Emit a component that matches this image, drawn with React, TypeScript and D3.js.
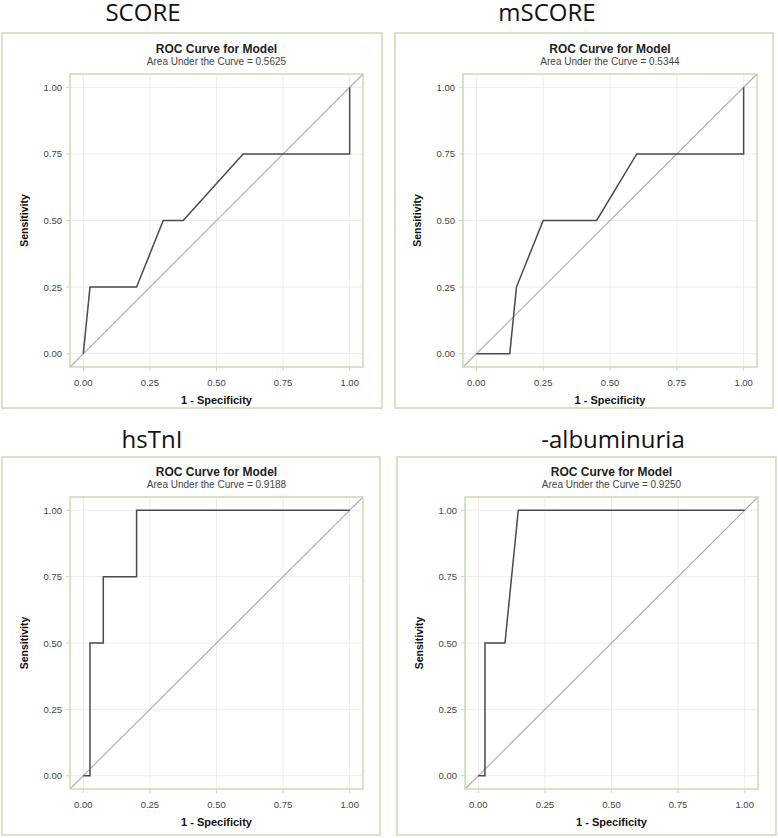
import React from "react";
import * as d3 from "d3";

const panelLabels = ["SCORE", "mSCORE", "hsTnI", "-albuminuria"];
const aucLabels = ["0.5625", "0.5344", "0.9188", "0.9250"];
const tickValues = [0, 0.25, 0.5, 0.75, 1];

const scoreFpr = [0, 0.025, 0.2, 0.3, 0.375, 0.6, 1.0, 1.0];
const scoreTpr = [0, 0.25, 0.25, 0.5, 0.5, 0.75, 0.75, 1.0];
const mscoreFpr = [0, 0.125, 0.15, 0.25, 0.45, 0.6, 1.0, 1.0];
const mscoreTpr = [0, 0, 0.25, 0.5, 0.5, 0.75, 0.75, 1.0];
const hstniFpr = [0, 0.025, 0.025, 0.075, 0.075, 0.2, 0.2, 1.0];
const hstniTpr = [0, 0, 0.5, 0.5, 0.75, 0.75, 1.0, 1.0];
const albFpr = [0, 0.025, 0.025, 0.1, 0.15, 1.0];
const albTpr = [0, 0, 0.5, 0.5, 1.0, 1.0];

const seriesFpr = [scoreFpr, mscoreFpr, hstniFpr, albFpr];
const seriesTpr = [scoreTpr, mscoreTpr, hstniTpr, albTpr];

type Layout = {
  frame: [number, number, number, number];
  plot: [number, number, number, number];
  labelX: number;
  labelY: number;
};

const layouts: Layout[] = [
  { frame: [2, 33, 382, 408], plot: [70, 74, 363, 367], labelX: 143, labelY: 21 },
  { frame: [395, 33, 773, 408], plot: [463, 74, 757, 367], labelX: 547, labelY: 21 },
  { frame: [2, 457, 380, 835], plot: [70, 497, 363, 789], labelX: 152, labelY: 448 },
  { frame: [397, 457, 776, 835], plot: [465, 497, 758, 789], labelX: 613, labelY: 448 },
];

const green = "#c9dcb3";
const fontChart = "'Liberation Sans', Arial, sans-serif";

function Panel({ idx }: { idx: number }) {
  const L = layouts[idx];
  const [fx0, fy0, fx1, fy1] = L.frame;
  const [px0, py0, px1, py1] = L.plot;
  const x = d3.scaleLinear().domain([-0.05, 1.05]).range([px0, px1]);
  const y = d3.scaleLinear().domain([-0.05, 1.05]).range([py1, py0]);
  const pts: [number, number][] = seriesFpr[idx].map((v, i) => [v, seriesTpr[idx][i]]);
  const line = d3
    .line<[number, number]>()
    .x((d) => x(d[0]))
    .y((d) => y(d[1]));
  const cx = (px0 + px1) / 2;
  const cy = (py0 + py1) / 2;
  return (
    <g>
      <rect x={fx0} y={fy0} width={fx1 - fx0} height={fy1 - fy0} fill="white" stroke={green} strokeWidth={1.5} />
      <text x={L.labelX} y={L.labelY} textAnchor="middle" fontFamily="'Open Sans', 'Noto Sans', sans-serif" fontSize={24} fill="#111">
        {panelLabels[idx]}
      </text>
      <text x={cx} y={py0 - 21} textAnchor="middle" fontFamily={fontChart} fontWeight="bold" fontSize={12} fill="#222">
        ROC Curve for Model
      </text>
      <text x={cx} y={py0 - 9} textAnchor="middle" fontFamily={fontChart} fontSize={10} fill="#444">
        {`Area Under the Curve = ${aucLabels[idx]}`}
      </text>
      {tickValues.map((t) => (
        <g key={"g" + t}>
          <line x1={x(t)} x2={x(t)} y1={py0} y2={py1} stroke="#ececec" strokeWidth={1} />
          <line x1={px0} x2={px1} y1={y(t)} y2={y(t)} stroke="#ececec" strokeWidth={1} />
          <line x1={x(t)} x2={x(t)} y1={py1} y2={py1 + 4} stroke={green} strokeWidth={1} />
          <line x1={px0 - 4} x2={px0} y1={y(t)} y2={y(t)} stroke={green} strokeWidth={1} />
          <text x={x(t)} y={py1 + 19} textAnchor="middle" fontFamily={fontChart} fontSize={9.5} fill="#444">
            {d3.format(".2f")(t)}
          </text>
          <text x={px0 - 8} y={y(t) + 3.5} textAnchor="end" fontFamily={fontChart} fontSize={9.5} fill="#444">
            {d3.format(".2f")(t)}
          </text>
        </g>
      ))}
      <line x1={x(-0.05)} y1={y(-0.05)} x2={x(1.05)} y2={y(1.05)} stroke="#adadad" strokeWidth={1.1} />
      <path d={line(pts) || ""} fill="none" stroke="#4a4a4a" strokeWidth={1.5} />
      <rect x={px0} y={py0} width={px1 - px0} height={py1 - py0} fill="none" stroke={green} strokeWidth={1.5} />
      <text x={cx} y={py1 + 37} textAnchor="middle" fontFamily={fontChart} fontWeight="bold" fontSize={11} fill="#111">
        1 - Specificity
      </text>
      <text
        transform={`translate(${px0 - 42},${cy}) rotate(-90)`}
        textAnchor="middle"
        fontFamily={fontChart}
        fontWeight="bold"
        fontSize={10.5}
        fill="#111"
      >
        Sensitivity
      </text>
    </g>
  );
}

export default function App() {
  return (
    <svg width={778} height={838} style={{ position: "absolute", left: 0, top: 0, background: "white" }}>
      <rect x={0} y={0} width={778} height={838} fill="white" />
      {[0, 1, 2, 3].map((i) => (
        <Panel key={i} idx={i} />
      ))}
    </svg>
  );
}
